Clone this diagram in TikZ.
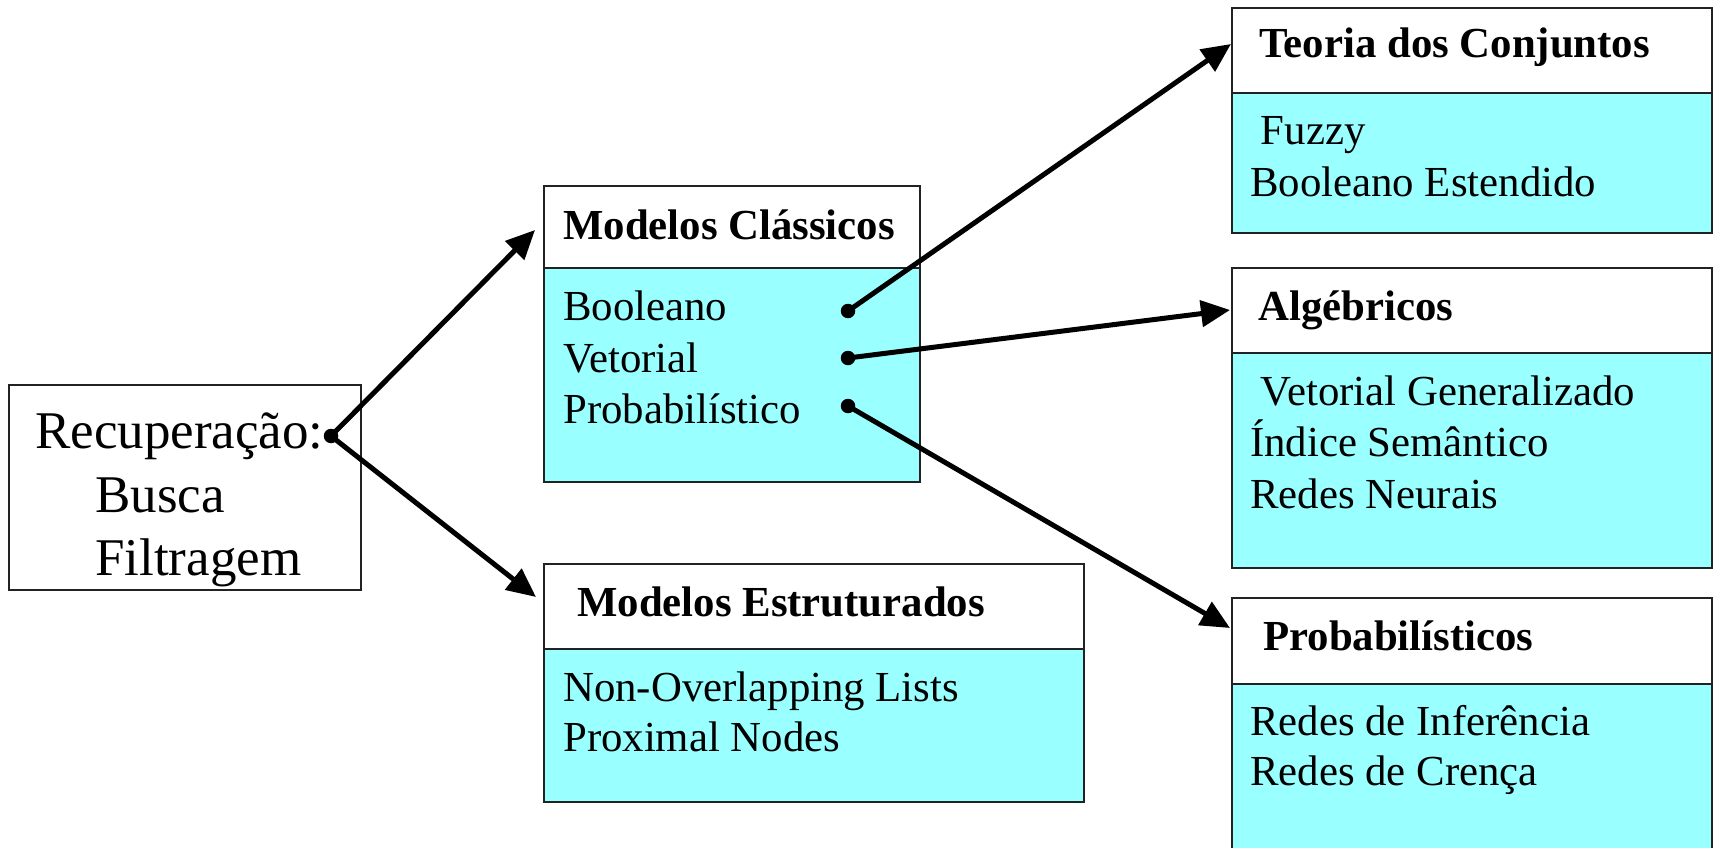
\documentclass[tikz,border=0pt]{standalone}
\usepackage{fontspec}
\setmainfont{Liberation Serif}
\usetikzlibrary{arrows.meta}
\definecolor{cyanfill}{HTML}{99FFFF}
\definecolor{boxline}{HTML}{222222}
\begin{document}
\begin{tikzpicture}[x=1pt,y=-1pt,
  box/.style={draw=boxline, line width=1.8pt},
  hdrbox/.style={box, fill=white},
  bodybox/.style={box, fill=cyanfill},
  txt/.style={anchor=base west, inner sep=0pt, font=\fontsize{42.8}{50}\selectfont},
  hdr/.style={anchor=base west, inner sep=0pt, font=\fontsize{42.8}{50}\selectfont\bfseries},
  big/.style={anchor=base west, inner sep=0pt, font=\fontsize{53}{64}\selectfont},
  dot/.style={circle, fill=black, inner sep=0pt, minimum size=14.5pt},
  link/.style={line width=5pt, -{Triangle[length=29pt,width=26pt]}}]
\useasboundingbox (0,0) rectangle (1715,848);

% Recuperacao box
\draw[box, fill=white] (9,385) rectangle (361,590);
\node[big] (rec) at (35,448) {Recuperação:};
\node[big] (busca) at (95,512) {Busca};
\node[big] (filt) at (95,575) {Filtragem};
\node[dot] (rdot) at (331,436) {};

% Modelos Classicos
\draw[bodybox] (544,268) rectangle (920,482);
\draw[hdrbox] (544,186) rectangle (920,268);
\node[hdr] (mch) at (563,239) {Modelos Clássicos};
\node[txt] (mcb1) at (563,320) {Booleano};
\node[txt] (mcb2) at (563,372) {Vetorial};
\node[txt] (mcb3) at (563,423) {Probabilístico};
\node[dot] (d1) at (848,311) {};
\node[dot] (d2) at (848,358) {};
\node[dot] (d3) at (848,406) {};

% Modelos Estruturados
\draw[bodybox] (544,649) rectangle (1084,802);
\draw[hdrbox] (544,564) rectangle (1084,649);
\node[hdr] (msh) at (577,616) {Modelos Estruturados};
\node[txt] (msb1) at (563,701) {Non-Overlapping Lists};
\node[txt] (msb2) at (563,751) {Proximal Nodes};

% Teoria dos Conjuntos
\draw[bodybox] (1232,93) rectangle (1712,233);
\draw[hdrbox] (1232,8) rectangle (1712,93);
\node[hdr] (tch) at (1259,58) {Teoria dos Conjuntos};
\node[txt] (tcb1) at (1250,145) {\ Fuzzy};
\node[txt] (tcb2) at (1250,196) {Booleano Estendido};

% Algebricos
\draw[bodybox] (1232,353) rectangle (1712,568);
\draw[hdrbox] (1232,268) rectangle (1712,353);
\node[hdr] (agh) at (1258,320) {Algébricos};
\node[txt] (agb1) at (1250,405) {\ Vetorial Generalizado};
\node[txt] (agb2) at (1250,456) {Índice Semântico};
\node[txt] (agb3) at (1250,508) {Redes Neurais};

% Probabilisticos
\draw[bodybox] (1232,684) rectangle (1712,856);
\draw[hdrbox] (1232,598) rectangle (1712,684);
\node[hdr] (prh) at (1263,650) {Probabilísticos};
\node[txt] (prb1) at (1250,735) {Redes de Inferência};
\node[txt] (prb2) at (1250,785) {Redes de Crença};

% arrow end points
\coordinate (mctip) at (535,230);
\coordinate (mstip) at (536,597);
\coordinate (tctip) at (1231,44);
\coordinate (agtip) at (1230,310);
\coordinate (prtip) at (1230,628);

\draw[link] (rdot.center) -- (mctip);
\draw[link] (rdot.center) -- (mstip);
\draw[link] (d1.center) -- (tctip);
\draw[link] (d2.center) -- (agtip);
\draw[link] (d3.center) -- (prtip);
\end{tikzpicture}
\end{document}
